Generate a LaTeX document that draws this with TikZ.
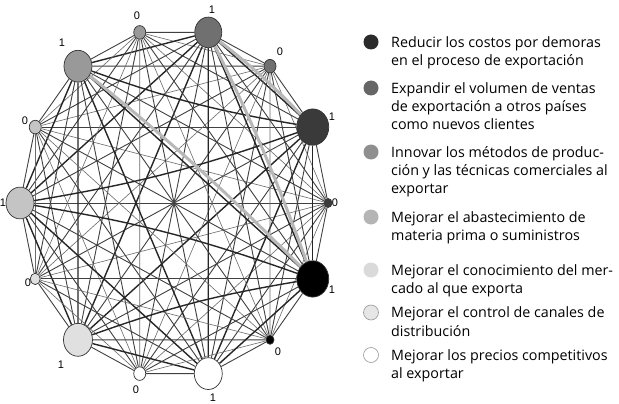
\documentclass[tikz,border=0pt]{standalone}
\usepackage{fontspec}
\setmainfont{Open Sans}
\newfontfamily\numfont{Liberation Sans}
\usetikzlibrary{shapes.geometric,backgrounds}
\definecolor{gA}{HTML}{000000}
\definecolor{gB}{HTML}{3A3A3A}
\definecolor{gC}{HTML}{707070}
\definecolor{gD}{HTML}{999999}
\definecolor{gE}{HTML}{C4C4C4}
\definecolor{gF}{HTML}{E0E0E0}
\definecolor{gG}{HTML}{FFFFFF}
\definecolor{lA}{HTML}{2B2B2B}
\definecolor{lB}{HTML}{666666}
\definecolor{lC}{HTML}{8F8F8F}
\definecolor{lD}{HTML}{B5B5B5}
\definecolor{lE}{HTML}{DADADA}
\definecolor{lF}{HTML}{E6E6E6}
\tikzset{
  vtx/.style={ellipse, draw=black!80, line width=0.7pt, inner sep=0pt,
    minimum width=2*#1, minimum height=2.27*#1},
  lbl/.style={font=\numfont\fontsize{11}{12}\selectfont, inner sep=0pt},
  ezero/.style={draw=black!58, line width=0.6pt},
  eone/.style={draw=black!75, line width=0.9pt},
  etwo/.style={draw=black!85, line width=1.4pt},
  hl/.style={draw=black!28, line width=3pt},
  legdot/.style={circle, inner sep=0pt, minimum size=15pt},
  legtxt/.style={anchor=north west, inner sep=0pt, align=left,
    font=\fontsize{14.3}{18.3}\selectfont},
}
\begin{document}
\begin{tikzpicture}[x=1pt,y=1pt]
\useasboundingbox (0,0) rectangle (619,-404);
% vertices
\foreach \i/\r/\c in {0/4/gB,1/16/gB,2/6/gC,3/13.5/gC,4/6/gD,5/14/gD,6/6/gE,
  7/14/gE,8/5/gF,9/14.5/gF,10/6/gG,11/14/gG,12/4/gA,13/16/gA}{
  \node[vtx=\r, fill=\c] (n\i) at ({174+154*cos(\i*360/14)},{-203+175*sin(\i*360/14)}) {};
}
% vertex labels
\node[lbl] (l0) at (335,-203) {0};
\node[lbl] (l1) at (332,-117) {1};
\node[lbl] (l2) at (280,-52) {0};
\node[lbl] (l3) at (212,-9.5) {1};
\node[lbl] (l4) at (137,-16) {0};
\node[lbl] (l5) at (62,-43) {1};
\node[lbl] (l6) at (25,-121) {0};
\node[lbl] (l7) at (3,-203) {1};
\node[lbl] (l8) at (28,-283) {0};
\node[lbl] (l9) at (61,-365) {1};
\node[lbl] (l10) at (136,-390) {0};
\node[lbl] (l11) at (213,-398) {1};
\node[lbl] (l12) at (278,-352) {0};
\node[lbl] (l13) at (332,-290) {1};
% edges
\begin{scope}[on background layer]
\fill[white] (0,0) rectangle (619,-404);
\foreach \i in {0,...,12}{
  \pgfmathtruncatemacro\s{\i+1}
  \foreach \j in {\s,...,13}{
    \pgfmathtruncatemacro\t{mod(\i,2)+mod(\j,2)}
    \pgfmathtruncatemacro\code{\i*100+\j}
    \gdef\curv{0}
    \foreach \cc in {105,107,713,913}{\ifnum\cc=\code\relax\gdef\curv{1}\fi}
    \ifnum\curv=0
      \ifcase\t \draw[ezero] (n\i) -- (n\j);
      \or \draw[eone] (n\i) -- (n\j);
      \or \draw[etwo] (n\i) -- (n\j);
      \fi
    \fi
  }
}
\draw[etwo] (n1) to[bend left=5] (n5);
\draw[etwo] (n1) to[bend left=5] (n7);
\draw[etwo] (n13) to[bend right=5] (n7);
\draw[etwo] (n13) to[bend right=5] (n9);
\draw[hl] (n3) to[bend left=4] (n1);
\draw[hl] (n3) to[bend left=3] (n13);
\draw[hl] (n5) to[bend left=3] (n13);
\end{scope}
% legend
\node[legdot, fill=lA] (d1) at (371,-42) {};
\node[legdot, fill=lB] (d2) at (371,-88) {};
\node[legdot, fill=lC] (d3) at (371,-152) {};
\node[legdot, fill=lD] (d4) at (371,-217) {};
\node[legdot, fill=lE] (d5) at (371,-270) {};
\node[legdot, fill=lF, draw=black!40, line width=0.6pt] (d6) at (371,-312.5) {};
\node[legdot, fill=white, draw=black!40, line width=0.6pt] (d7) at (371,-355) {};
\node[legtxt] (t1) at (391,-35) {\rule{0pt}{12pt}Reducir los costos por demoras\\en el proceso de exportación};
\node[legtxt] (t2) at (391,-81) {\rule{0pt}{12pt}Expandir el volumen de ventas\\de exportación a otros países\\como nuevos clientes};
\node[legtxt] (t3) at (391,-145) {\rule{0pt}{12pt}Innovar los métodos de produc-\\ción y las técnicas comerciales al\\exportar};
\node[legtxt] (t4) at (391,-210) {\rule{0pt}{12pt}Mejorar el abastecimiento de\\materia prima o suministros};
\node[legtxt] (t5) at (391,-263) {\rule{0pt}{12pt}Mejorar el conocimiento del mer-\\cado al que exporta};
\node[legtxt] (t6) at (391,-305.5) {\rule{0pt}{12pt}Mejorar el control de canales de\\distribución};
\node[legtxt] (t7) at (391,-348) {\rule{0pt}{12pt}Mejorar los precios competitivos\\al exportar};
\end{tikzpicture}
\end{document}
